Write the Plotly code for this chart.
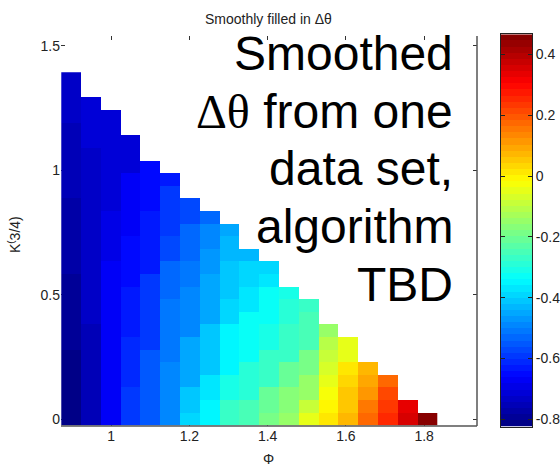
import plotly.graph_objects as go

# ---- data ----
phi = [0.898, 0.9485, 0.999, 1.0495, 1.1, 1.1505, 1.201, 1.2515, 1.302, 1.3525,
       1.403, 1.4535, 1.504, 1.5545, 1.605, 1.6555, 1.706, 1.7565, 1.807]
k34 = [0, 0.0507, 0.1014, 0.1521, 0.2028, 0.2535, 0.3042, 0.3549, 0.4056, 0.4563,
       0.507, 0.5577, 0.6084, 0.6591, 0.7098, 0.7605, 0.8112, 0.8619, 0.9126, 0.9633,
       1.014, 1.0647, 1.1154, 1.1661, 1.2168, 1.2675, 1.3182, 1.3689]

# values per column (bottom row first)
col00 = [-0.81, -0.81, -0.81, -0.81, -0.81, -0.81, -0.79, -0.79, -0.79, -0.79, -0.79, -0.79,
         -0.77, -0.77, -0.77, -0.77, -0.77, -0.77, -0.75, -0.75, -0.75, -0.75, -0.75, -0.75,
         -0.73, -0.73, -0.73, -0.73]
col01 = [-0.745, -0.745, -0.745, -0.745, -0.745, -0.745, -0.745, -0.745,
         -0.733, -0.733, -0.733, -0.733, -0.733, -0.733, -0.733, -0.733, -0.733, -0.733,
         -0.733, -0.733, -0.733, -0.733, -0.715, -0.715, -0.715, -0.715]
col02 = [-0.672, -0.672, -0.672, -0.672, -0.672, -0.672, -0.672, -0.672, -0.672, -0.672,
         -0.672, -0.672, -0.672, -0.69, -0.69, -0.69, -0.69,
         -0.71, -0.71, -0.71, -0.71, -0.71, -0.71, -0.71, -0.71]
col03 = [-0.59, -0.59, -0.59, -0.62, -0.62, -0.62, -0.62, -0.635, -0.635, -0.635, -0.635,
         -0.655, -0.655, -0.655, -0.655, -0.672, -0.672, -0.672, -0.672, -0.672,
         -0.71, -0.71, -0.71]
col04 = [-0.545, -0.545, -0.545, -0.545, -0.545, -0.545, -0.585, -0.585, -0.585,
         -0.60, -0.60, -0.60, -0.625, -0.625, -0.625, -0.625, -0.625,
         -0.655, -0.655, -0.655, -0.655]
col05 = [-0.485, -0.485, -0.485, -0.485, -0.485, -0.51, -0.51, -0.51, -0.51, -0.51,
         -0.535, -0.535, -0.535, -0.565, -0.565, -0.60, -0.60, -0.60, -0.60, -0.64]
col06 = [-0.40, -0.42, -0.42, -0.46, -0.46, -0.46, -0.46, -0.49, -0.49, -0.49, -0.49,
         -0.51, -0.51, -0.525, -0.525, -0.525, -0.57, -0.57]
col07 = [-0.35, -0.35, -0.38, -0.38, -0.42, -0.42, -0.42, -0.42, -0.45, -0.45, -0.45, -0.45,
         -0.47, -0.47, -0.50, -0.50, -0.53]
col08 = [-0.27, -0.27, -0.31, -0.31, -0.36, -0.36, -0.36, -0.36, -0.39, -0.39,
         -0.42, -0.42, -0.42, -0.44, -0.44, -0.46]
col09 = [-0.24, -0.24, -0.29, -0.29, -0.29, -0.34, -0.34, -0.34, -0.34, -0.37, -0.37,
         -0.40, -0.40, -0.44]
col10 = [-0.19, -0.21, -0.21, -0.26, -0.26, -0.26, -0.30, -0.30, -0.34, -0.34, -0.34,
         -0.37, -0.40]
col11 = [-0.14, -0.16, -0.16, -0.21, -0.21, -0.26, -0.26, -0.26, -0.28, -0.28, -0.30]
col12 = [-0.05, -0.09, -0.14, -0.14, -0.19, -0.19, -0.24, -0.24, -0.24, -0.26]
col13 = [0.01, -0.005, -0.025, -0.05, -0.07, -0.09, -0.11, -0.15]
col14 = [0.08, 0.06, 0.045, 0.03, 0.02, -0.04, -0.055]
col15 = [0.18, 0.145, 0.12, 0.10, 0.08]
col16 = [0.26, 0.235, 0.21, 0.18]
col17 = [0.355, 0.335]
col18 = [0.458]

columns = [col00, col01, col02, col03, col04, col05, col06, col07, col08, col09,
           col10, col11, col12, col13, col14, col15, col16, col17, col18]

xticks = [1, 1.2, 1.4, 1.6, 1.8]
yticks = [0, 0.5, 1, 1.5]
cticks = [-0.8, -0.6, -0.4, -0.2, 0, 0.2, 0.4]
zmin, zmax = -0.824, 0.466

# ---- build grid (rows x cols), None where empty ----
z = []
for r in range(len(k34)):
    row = []
    for col in columns:
        row.append(col[r] if r < len(col) else None)
    z.append(row)

# MATLAB jet(64) discrete colorscale
NLEV = 64
def jet(n):
    t = (n + 0.5) / NLEV
    def c(v):
        return max(0.0, min(1.0, v))
    r = c(1.5 - abs(4 * t - 3))
    g = c(1.5 - abs(4 * t - 2))
    b = c(1.5 - abs(4 * t - 1))
    return "rgb(%d,%d,%d)" % (round(r * 255), round(g * 255), round(b * 255))

cs = []
for n in range(NLEV):
    col = jet(n)
    cs.append([n / NLEV, col])
    cs.append([(n + 1) / NLEV, col])

# colour key levels (one strip per colormap entry)
step = (zmax - zmin) / NLEV
key_y = [zmin + (n + 0.5) * step for n in range(NLEV)]
key_z = [[v] for v in key_y]

# ---- geometry (pixels) ----
W, H = 560, 466
ML, MR, MT, MB = 61, 0, 34, 39
PW, PH = W - ML - MR, H - MT - MB
def px(x):
    return (x - ML) / PW
def py(y):
    return (H - MB - y) / PH

fig = go.Figure()
fig.add_trace(go.Heatmap(
    x=phi, y=k34, z=z, zmin=zmin, zmax=zmax, colorscale=cs,
    hoverongaps=False, showscale=False, xaxis="x", yaxis="y",
))
fig.add_trace(go.Heatmap(
    x=[0.5], y=key_y, z=key_z, zmin=zmin, zmax=zmax, colorscale=cs,
    showscale=False, xaxis="x2", yaxis="y2", hoverinfo="skip",
))

tfont = dict(family="Liberation Sans, Arial", size=14, color="#222")
fig.update_layout(
    width=W, height=H,
    margin=dict(l=ML, r=MR, t=MT, b=MB, pad=0),
    paper_bgcolor="white", plot_bgcolor="rgba(0,0,0,0)",
    xaxis=dict(domain=[px(61), px(477)], range=[0.872, 1.935], tickvals=xticks,
               ticktext=[("%g" % v) for v in xticks], anchor="y",
               ticks="inside", ticklen=4, tickcolor="#333", mirror="ticks",
               showline=False, showgrid=False, zeroline=False, tickfont=tfont,
               layer="below traces"),
    yaxis=dict(domain=[py(426), py(36)], range=[-0.028, 1.54], tickvals=yticks,
               ticktext=[("%g" % v) for v in yticks], anchor="x",
               ticks="inside", ticklen=4, tickcolor="#333", mirror="ticks",
               showline=False, showgrid=False, zeroline=False, tickfont=tfont,
               layer="below traces"),
    xaxis2=dict(domain=[px(501), px(532)], range=[0, 1], anchor="y2",
                showticklabels=False, ticks="", showgrid=False, zeroline=False,
                showline=True, mirror=True, linecolor="#222", linewidth=1),
    yaxis2=dict(domain=[py(426.7), py(34.3)], range=[zmin, zmax], anchor="x2",
                side="right", tickvals=cticks, ticktext=[("%g" % v) for v in cticks],
                ticks="inside", ticklen=4, tickcolor="#222", mirror="ticks",
                showgrid=False, zeroline=False, showline=True, linecolor="#222",
                linewidth=1, tickfont=tfont),
    showlegend=False,
)

# visible axis lines (bottom and right)
fig.add_shape(type="line", xref="x domain", yref="y domain", x0=0, x1=1, y0=0, y1=0,
              line=dict(color="#555", width=1.5))
fig.add_shape(type="line", xref="x domain", yref="y domain", x0=1, x1=1, y0=0, y1=1,
              line=dict(color="#555", width=1.5))

ann = []
ann.append(dict(text="Smoothly filled in Δθ", x=px(268), y=py(19), xref="paper", yref="paper",
                xanchor="center", yanchor="middle", showarrow=False, font=tfont))
ann.append(dict(text="Φ", x=px(268), y=py(459), xref="paper", yref="paper",
                xanchor="center", yanchor="middle", showarrow=False, font=tfont))
ann.append(dict(text="K<sup>(</sup>3/4)", x=px(14), y=py(235), xref="paper", yref="paper",
                xanchor="center", yanchor="middle", showarrow=False, textangle=-90,
                font=tfont))
big_lines = ["Smoothed",
             '<span style="font-family:Liberation Serif, Times New Roman">Δθ</span> from one',
             "data set,",
             "algorithm",
             "TBD"]
big_centers = [53, 111, 168, 226, 284]
for t, yc in zip(big_lines, big_centers):
    ann.append(dict(text=t, x=px(455), y=py(yc), xref="paper", yref="paper",
                    xanchor="right", yanchor="middle", showarrow=False, align="right",
                    font=dict(family="Liberation Sans, Arial", size=48, color="black")))
fig.update_layout(annotations=ann)

fig.write_html("out.html")
